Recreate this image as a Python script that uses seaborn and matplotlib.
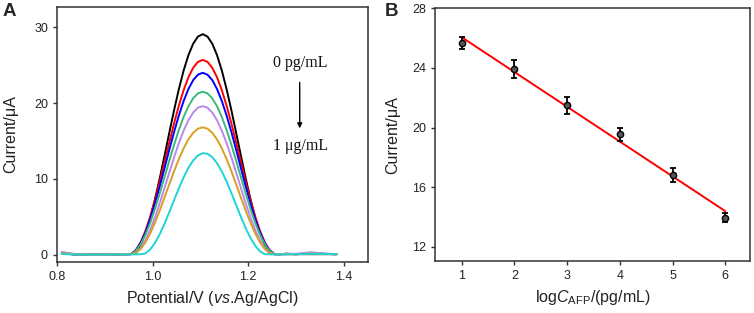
import numpy as np
import pandas as pd
import matplotlib
matplotlib.use("Agg")
import matplotlib.pyplot as plt
import seaborn as sns

# ---- Panel A: DPV curves ----
potential = [0.81, 0.82, 0.84, 0.87, 0.90, 0.93,
             0.945, 0.955, 0.965, 0.975, 0.985, 0.995, 1.005, 1.015, 1.025, 1.035, 1.045,
             1.055, 1.065, 1.075, 1.085, 1.095, 1.105, 1.115, 1.125, 1.135, 1.145, 1.155,
             1.165, 1.175, 1.185, 1.195, 1.205, 1.215, 1.225, 1.235, 1.245, 1.255, 1.265,
             1.28, 1.30, 1.33, 1.35, 1.385]

cur_black = [0.15, 0.1, 0.0, 0.0, 0.0, 0.02,
             0.03, 0.05, 0.32, 1.26, 2.78, 4.81, 7.28, 10.05, 13.03, 16.07, 19.05, 21.83, 24.29,
             26.32, 27.84, 28.78, 29.10, 28.78, 27.84, 26.32, 24.29, 21.83, 19.05, 16.07,
             13.03, 10.05, 7.28, 4.81, 2.78, 1.26, 0.32, 0.05, 0.03,
             0.05, 0.05, 0.05, 0.05, 0.05]
cur_red = [0.2, 0.15, 0.0, 0.0, 0.0, 0.03,
           0.05, 0.07, 0.59, 1.61, 3.10, 4.99, 7.19, 9.63, 12.20, 14.80, 17.31, 19.65, 21.70,
           23.40, 24.66, 25.44, 25.70, 25.44, 24.66, 23.40, 21.70, 19.65, 17.31, 14.80,
           12.20, 9.63, 7.19, 4.99, 3.10, 1.61, 0.59, 0.07, 0.05,
           0.1, 0.05, 0.15, 0.1, 0.05]
cur_blue = [0.2, 0.15, 0.0, 0.0, 0.0, 0.03,
            0.05, 0.06, 0.55, 1.51, 2.90, 4.66, 6.72, 8.99, 11.39, 13.82, 16.17, 18.35, 20.27,
            21.85, 23.03, 23.75, 24.00, 23.75, 23.03, 21.85, 20.27, 18.35, 16.17, 13.82,
            11.39, 8.99, 6.72, 4.66, 2.90, 1.51, 0.55, 0.06, 0.05,
            0.1, 0.05, 0.15, 0.1, 0.05]
cur_green = [0.2, 0.15, 0.0, 0.0, 0.0, 0.03,
             0.05, 0.06, 0.49, 1.35, 2.60, 4.17, 6.02, 8.06, 10.21, 12.38, 14.48, 16.44, 18.16,
             19.57, 20.63, 21.28, 21.50, 21.28, 20.63, 19.57, 18.16, 16.44, 14.48, 12.38,
             10.21, 8.06, 6.02, 4.17, 2.60, 1.35, 0.49, 0.06, 0.05,
             0.1, 0.05, 0.15, 0.1, 0.05]
cur_violet = [0.35, 0.25, 0.05, 0.0, 0.0, 0.03,
              0.04, 0.05, 0.21, 0.85, 1.87, 3.24, 4.90, 6.77, 8.78, 10.82, 12.83, 14.70, 16.36,
              17.73, 18.75, 19.39, 19.60, 19.39, 18.75, 17.73, 16.36, 14.70, 12.83, 10.82,
              8.78, 6.77, 4.90, 3.24, 1.87, 0.85, 0.21, 0.05, 0.04,
              0.1, 0.1, 0.3, 0.2, 0.05]
cur_gold = [0.2, 0.15, 0.0, 0.0, 0.0, 0.03,
            0.04, 0.05, 0.18, 0.73, 1.60, 2.78, 4.20, 5.80, 7.52, 9.28, 11.00, 12.60, 14.02,
            15.20, 16.07, 16.62, 16.80, 16.62, 16.07, 15.20, 14.02, 12.60, 11.00, 9.28,
            7.52, 5.80, 4.20, 2.78, 1.60, 0.73, 0.18, 0.05, 0.04,
            0.05, 0.05, 0.15, 0.1, 0.05]
cur_cyan = [0.1, 0.05, 0.0, 0.0, 0.0, 0.02,
            0.02, 0.02, 0.03, 0.04, 0.15, 0.67, 1.53, 2.68, 4.06, 5.59, 7.18, 8.74, 10.19,
            11.44, 12.42, 13.08, 13.38, 13.31, 12.86, 12.06, 10.97, 9.63, 8.12, 6.54,
            4.97, 3.49, 2.19, 1.15, 0.42, 0.05, 0.03, 0.02, 0.02,
            0.05, 0.05, 0.1, 0.1, 0.05]

curves = [cur_black, cur_red, cur_blue, cur_green, cur_violet, cur_gold, cur_cyan]
curve_colors = ["#000000", "#ff0000", "#0000ff", "#3cb878", "#bb88ee", "#d6a021", "#1ed4d4"]

# ---- Panel B: calibration ----
log_conc = [1, 2, 3, 4, 5, 6]
current_b = [25.65, 23.9, 21.5, 19.55, 16.8, 13.96]
err_b = [0.4, 0.6, 0.58, 0.44, 0.46, 0.28]

sns.set_theme(style="ticks")
plt.rcParams["font.family"] = ["Liberation Sans", "DejaVu Sans"]
plt.rcParams["mathtext.fontset"] = "custom"
plt.rcParams["mathtext.rm"] = "Liberation Sans"
plt.rcParams["mathtext.it"] = "Liberation Sans:italic"
plt.rcParams["axes.edgecolor"] = "#333333"
plt.rcParams["axes.linewidth"] = 1.1
plt.rcParams["xtick.color"] = "#333333"
plt.rcParams["ytick.color"] = "#333333"
plt.rcParams["xtick.labelcolor"] = "#222222"
plt.rcParams["ytick.labelcolor"] = "#222222"

fig = plt.figure(figsize=(7.54, 3.13), dpi=100)
ax1 = fig.add_axes([0.0756, 0.163, 0.4125, 0.815])
ax2 = fig.add_axes([0.5773, 0.166, 0.4174, 0.8074])

for cur, col in zip(curves, curve_colors):
    sns.lineplot(x=potential, y=cur, ax=ax1, color=col, linewidth=1.4)

ax1.set_xlim(0.8, 1.451)
ax1.set_ylim(-0.98, 32.7)
ax1.set_xticks([0.8, 1.0, 1.2, 1.4])
ax1.set_xticklabels(["0.8", "1.0", "1.2", "1.4"])
ax1.set_yticks([0, 10, 20, 30])
ax1.set_xlabel("Potential/V ($\\mathit{vs}$.Ag/AgCl)", fontsize=11.5, color="#222222")
ax1.set_ylabel("Current/\u03bcA", fontsize=11.5, color="#222222")
ax1.yaxis.set_label_coords(-0.125, 0.5)
ax1.xaxis.set_label_coords(0.5, -0.105)
ax1.text(1.31, 25.3, "0 pg/mL", family=["Liberation Serif"], fontsize=11.5,
         ha="center", va="center", color="#111111")
ax1.text(1.31, 14.3, "1 \u03bcg/mL", family=["Liberation Serif"], fontsize=11.5,
         ha="center", va="center", color="#111111")
ax1.annotate("", xy=(1.308, 16.3), xytext=(1.308, 23.1),
             arrowprops=dict(arrowstyle="-|>", color="black", lw=1.0, mutation_scale=7))

sns.regplot(x=log_conc, y=current_b, ax=ax2, ci=None, scatter=False,
            line_kws=dict(color="#ff0000", lw=1.4))
ax2.errorbar(log_conc, current_b, yerr=err_b, fmt="o", color="black", ms=4.5,
             mfc="#555555", mec="black", capsize=2.5, elinewidth=1.3, capthick=1.3)
ax2.set_xlim(0.5, 6.47)
ax2.set_ylim(11.04, 28)
ax2.set_xticks(log_conc)
ax2.set_yticks([12, 16, 20, 24, 28])
ax2.set_xlabel("log$\\mathit{C}_{\\mathrm{AFP}}$/(pg/mL)", fontsize=11.5, color="#222222")
ax2.set_ylabel("Current/\u03bcA", fontsize=11.5, color="#222222")
ax2.yaxis.set_label_coords(-0.11, 0.5)
ax2.xaxis.set_label_coords(0.5, -0.108)

for ax in (ax1, ax2):
    ax.tick_params(direction="out", length=3, width=1, labelsize=9)
    for sp in ax.spines.values():
        sp.set_visible(True)

fig.text(0.003, 0.99, "A", fontsize=13.5, fontweight="bold", va="top")
fig.text(0.51, 0.99, "B", fontsize=13.5, fontweight="bold", va="top")

fig.savefig("out.png", dpi=100)
